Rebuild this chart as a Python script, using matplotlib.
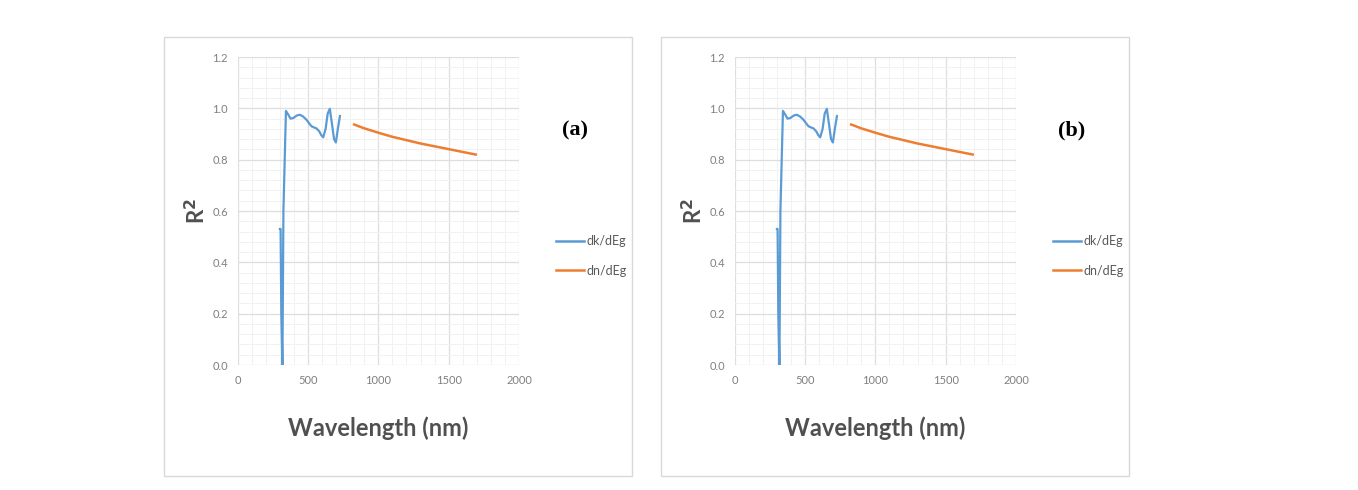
import matplotlib.pyplot as plt
from matplotlib.patches import Rectangle
from matplotlib.lines import Line2D
from matplotlib.ticker import MultipleLocator
import numpy as np

# dk/dEg (blue)
dk_wl = [300, 305, 310, 318, 325, 343, 360, 375, 395, 420, 442, 465, 490, 510, 525, 545, 560, 580, 595, 608, 625, 640, 655, 670, 685, 698, 712, 727]
dk_r2 = [0.53, 0.53, 0.20, 0.0, 0.60, 0.99, 0.975, 0.96, 0.962, 0.972, 0.975, 0.968, 0.955, 0.94, 0.93, 0.925, 0.922, 0.91, 0.895, 0.887, 0.92, 0.98, 0.998, 0.94, 0.88, 0.867, 0.92, 0.97]

# dn/dEg (orange)
dn_wl = [828, 900, 1000, 1100, 1200, 1300, 1400, 1500, 1600, 1692]
dn_r2 = [0.937, 0.922, 0.905, 0.889, 0.876, 0.863, 0.852, 0.841, 0.830, 0.820]

panel_labels = ["(a)", "(b)"]
series_names = ["dk/dEg", "dn/dEg"]
colors = ["#5b9bd5", "#ed7d31"]

plt.rcParams["font.family"] = ["Lato", "DejaVu Sans"]

W, H = 1358, 490
fig = plt.figure(figsize=(W / 100, H / 100), dpi=100)


def fx(px):
    return px / W


def fy(py):
    return 1 - py / H


for i, lab in enumerate(panel_labels):
    dx = 497 * i
    # panel frame
    fig.add_artist(Rectangle((fx(164 + dx), fy(476)), fx(468), 439 / H,
                             transform=fig.transFigure, fill=False,
                             edgecolor="#d9d9d9", linewidth=1))
    ax = fig.add_axes([fx(237.7 + dx), fy(365), fx(281.3), 308 / H])
    ax.plot(dk_wl, dk_r2, color=colors[0], lw=1.6)
    ax.plot(dn_wl, dn_r2, color=colors[1], lw=1.8)
    ax.set_xlim(0, 2000)
    ax.set_ylim(0, 1.2)
    ax.xaxis.set_major_locator(MultipleLocator(500))
    ax.xaxis.set_minor_locator(MultipleLocator(100))
    ax.yaxis.set_major_locator(MultipleLocator(0.2))
    ax.yaxis.set_minor_locator(MultipleLocator(0.04))
    ax.grid(which="major", color="#dedede", lw=0.9)
    ax.grid(which="minor", color="#f2f2f2", lw=0.7)
    ax.set_axisbelow(True)
    for s in ax.spines.values():
        s.set_visible(False)
    ax.tick_params(which="both", length=0, labelsize=8, labelcolor="#7f7f7f", pad=7)
    ax.set_yticks(np.arange(0, 1.21, 0.2))
    ax.set_yticklabels([f"{v:.1f}" for v in np.arange(0, 1.21, 0.2)])
    ax.set_xlabel("Wavelength (nm)", fontsize=17, color="#505050",
                  fontweight="bold", labelpad=22)
    ax.set_ylabel("R$^{\\mathbf{2}}$", fontsize=16, color="#505050",
                  fontweight="bold", labelpad=2)
    fig.text(fx(575 + dx), fy(130), lab, fontsize=16, fontweight="bold",
             family=["Liberation Serif", "DejaVu Serif"], ha="center", va="center")
    handles = [Line2D([0], [0], color=c, lw=1.8) for c in colors]
    fig.legend(handles, series_names, loc="center left",
               bbox_to_anchor=(fx(545 + dx), fy(256)), frameon=False,
               fontsize=9, labelcolor="#595959", handlelength=2.2,
               handletextpad=0.2, labelspacing=1.4)

fig.savefig("out.png", dpi=100)
